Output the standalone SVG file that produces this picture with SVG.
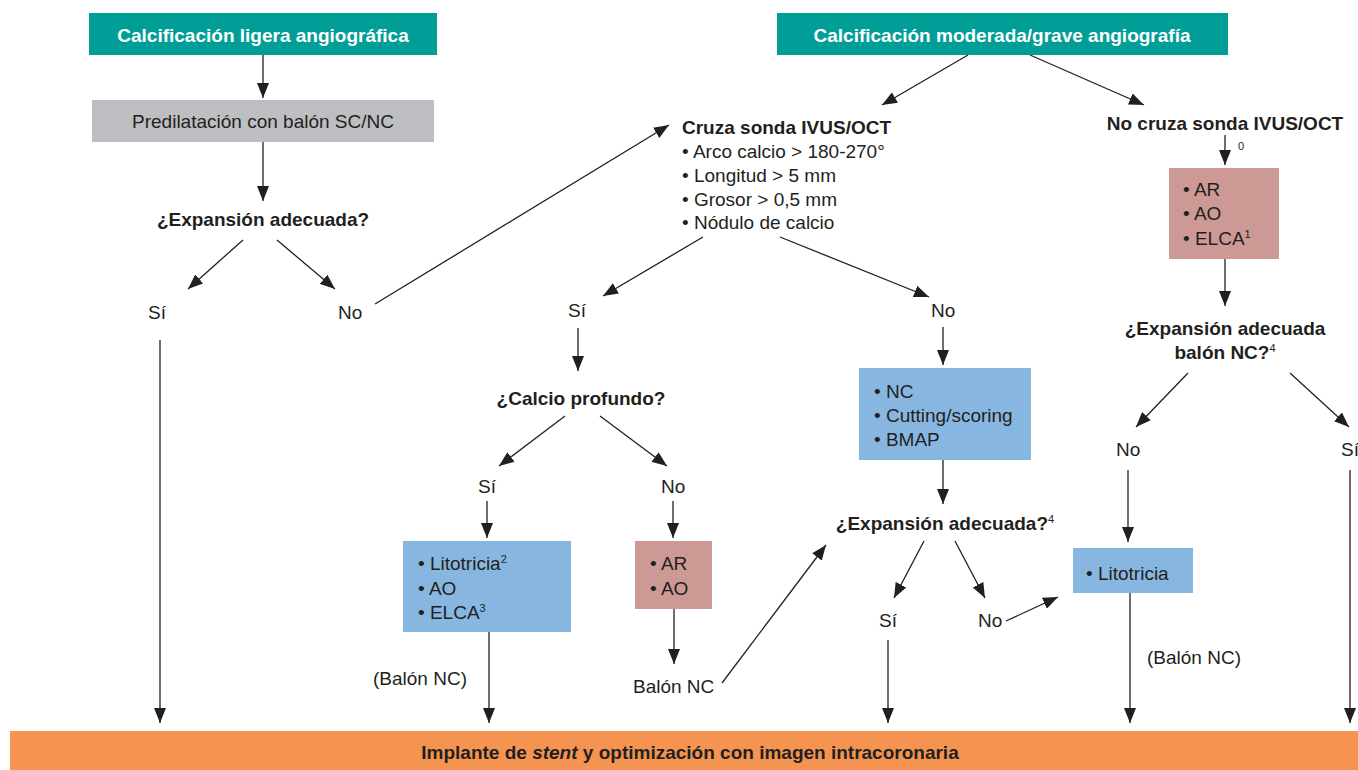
<svg xmlns="http://www.w3.org/2000/svg" width="1358" height="770" viewBox="0 0 1358 770">
<defs>
<marker id="ah" markerUnits="userSpaceOnUse" markerWidth="16" markerHeight="12" refX="15" refY="6" orient="auto">
<path d="M0,0 L15,6 L0,12 Z" fill="#231F20"/>
</marker>
<style>
text{font-family:"Liberation Sans",Arial,Helvetica,sans-serif;font-size:19px;fill:#231F20}
.b{font-weight:bold}
.w{fill:#ffffff;font-weight:bold}
.c{text-anchor:middle}
.sup{font-size:11px;font-weight:normal}
.teal{fill:#009E97}
.gray{fill:#BDBEC1}
.blue{fill:#87B7E1}
.pink{fill:#CD9995}
.orange{fill:#F59451}
#conn line{stroke:#231F20;stroke-width:1.3;fill:none}
#conn .a{marker-end:url(#ah)}
</style>
</defs>
<rect width="1358" height="770" fill="#ffffff"/>

<g id="conn">
<line class="a" x1="263" y1="55" x2="263" y2="98"/>
<line class="a" x1="263" y1="142" x2="263" y2="201"/>
<line class="a" x1="243" y1="240" x2="188" y2="289"/>
<line class="a" x1="277" y1="240" x2="335" y2="289"/>
<line class="a" x1="160" y1="340" x2="160" y2="723"/>
<line class="a" x1="375" y1="304" x2="669" y2="125"/>
<line class="a" x1="968" y1="55" x2="882" y2="105"/>
<line class="a" x1="1030" y1="55" x2="1144" y2="105"/>
<line class="a" x1="1225" y1="135" x2="1225" y2="165"/>
<line class="a" x1="1225" y1="259" x2="1225" y2="306"/>
<line class="a" x1="1188" y1="373" x2="1136" y2="427"/>
<line class="a" x1="1290" y1="373" x2="1349" y2="427"/>
<line class="a" x1="1128" y1="470" x2="1128" y2="542"/>
<line class="a" x1="1130" y1="593" x2="1130" y2="723"/>
<line class="a" x1="1350" y1="470" x2="1350" y2="723"/>
<line class="a" x1="703" y1="237" x2="603" y2="296"/>
<line class="a" x1="780" y1="237" x2="929" y2="297"/>
<line class="a" x1="578" y1="328" x2="578" y2="371"/>
<line class="a" x1="565" y1="416" x2="499" y2="466"/>
<line class="a" x1="600" y1="416" x2="667" y2="466"/>
<line class="a" x1="487" y1="501" x2="487" y2="538"/>
<line class="a" x1="673" y1="501" x2="673" y2="538"/>
<line class="a" x1="489" y1="632" x2="489" y2="723"/>
<line class="a" x1="674" y1="609" x2="674" y2="664"/>
<line class="a" x1="722" y1="683" x2="826" y2="545"/>
<line class="a" x1="943" y1="327" x2="943" y2="365"/>
<line class="a" x1="943" y1="460" x2="943" y2="504"/>
<line class="a" x1="924" y1="541" x2="894" y2="598"/>
<line class="a" x1="955" y1="541" x2="985" y2="598"/>
<line class="a" x1="1006" y1="621" x2="1058" y2="597"/>
<line class="a" x1="888" y1="640" x2="888" y2="723"/>
</g>

<g id="n-ligera">
<rect class="teal" x="89" y="13" width="348" height="42"/>
<text class="w c" x="263" y="42">Calcificación ligera angiográfica</text>
</g>
<g id="n-predil">
<rect class="gray" x="92" y="100" width="342" height="42"/>
<text class="c" x="263" y="128" fill="#3a3a3a">Predilatación con balón SC/NC</text>
</g>
<g id="n-exp1">
<text class="b c" x="263" y="226">¿Expansión adecuada?</text>
</g>
<g id="l-si1"><text x="148" y="319">Sí</text></g>
<g id="l-no1"><text x="338" y="319">No</text></g>

<g id="n-moderada">
<rect class="teal" x="777" y="13" width="451" height="42"/>
<text class="w c" x="1002" y="42">Calcificación moderada/grave angiografía</text>
</g>
<g id="n-cruza">
<text class="b" x="682" y="134">Cruza sonda IVUS/OCT</text>
<text x="682" y="158">• Arco calcio &gt; 180-270°</text>
<text x="682" y="182">• Longitud &gt; 5 mm</text>
<text x="682" y="206">• Grosor &gt; 0,5 mm</text>
<text x="682" y="229">• Nódulo de calcio</text>
</g>
<g id="n-nocruza">
<text class="b c" x="1225" y="130">No cruza sonda IVUS/OCT</text>
<text class="sup" x="1238" y="150">0</text>
</g>
<g id="n-ar1">
<rect class="pink" x="1169" y="168" width="110" height="91"/>
<text x="1183" y="196">• AR</text>
<text x="1183" y="220">• AO</text>
<text x="1183" y="245">• ELCA<tspan class="sup" dy="-7">1</tspan></text>
</g>
<g id="n-exp4">
<text class="b c" x="1225" y="335">¿Expansión adecuada</text>
<text class="b c" x="1225" y="359">balón NC?<tspan class="sup" dy="-7">4</tspan></text>
</g>
<g id="l-no4"><text x="1116" y="456">No</text></g>
<g id="l-si4"><text x="1341" y="456">Sí</text></g>
<g id="n-lito2">
<rect class="blue" x="1073" y="548" width="120" height="45"/>
<text x="1086" y="580">• Litotricia</text>
</g>
<g id="l-balon3"><text x="1147" y="664">(Balón NC)</text></g>

<g id="l-si2"><text x="568" y="317">Sí</text></g>
<g id="l-no2"><text x="931" y="317">No</text></g>
<g id="n-calcio">
<text class="b c" x="581" y="405">¿Calcio profundo?</text>
</g>
<g id="l-si3"><text x="478" y="493">Sí</text></g>
<g id="l-no3"><text x="661" y="493">No</text></g>
<g id="n-lito1">
<rect class="blue" x="403" y="541" width="168" height="91"/>
<text x="418" y="570">• Litotricia<tspan class="sup" dy="-7">2</tspan></text>
<text x="418" y="595">• AO</text>
<text x="418" y="619">• ELCA<tspan class="sup" dy="-7">3</tspan></text>
</g>
<g id="n-ar2">
<rect class="pink" x="635" y="541" width="77" height="68"/>
<text x="650" y="570">• AR</text>
<text x="650" y="595">• AO</text>
</g>
<g id="l-balon1"><text x="373" y="685">(Balón NC)</text></g>
<g id="l-balon2"><text x="633" y="693">Balón NC</text></g>

<g id="n-nc">
<rect class="blue" x="859" y="368" width="172" height="92"/>
<text x="874" y="398">• NC</text>
<text x="874" y="422">• Cutting/scoring</text>
<text x="874" y="446">• BMAP</text>
</g>
<g id="n-exp2">
<text class="b c" x="945" y="530">¿Expansión adecuada?<tspan class="sup" dy="-7">4</tspan></text>
</g>
<g id="l-si5"><text x="879" y="627">Sí</text></g>
<g id="l-no5"><text x="978" y="627">No</text></g>

<g id="n-implante">
<rect class="orange" x="10" y="731" width="1348" height="39"/>
<text class="b c" x="690" y="759">Implante de <tspan font-style="italic">stent</tspan> y optimización con imagen intracoronaria</text>
</g>
</svg>
